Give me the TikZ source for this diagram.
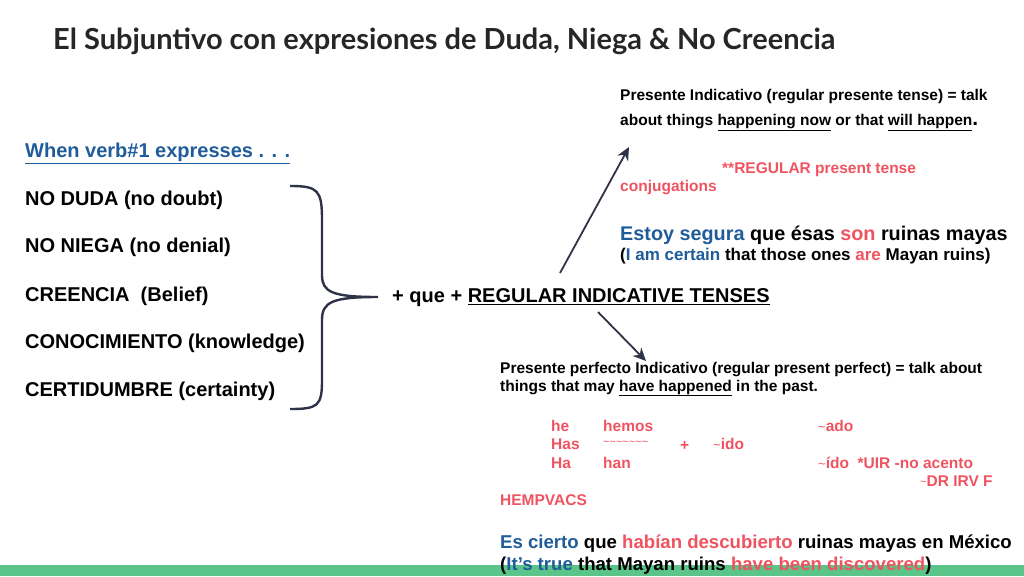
\documentclass[tikz,border=0pt]{standalone}
\usepackage{fontspec}
\setmainfont{Liberation Sans}
\newfontfamily\titlefont{Lato}
\usetikzlibrary{arrows.meta}
\definecolor{myblue}{HTML}{1F5C99}
\definecolor{myred}{HTML}{EF5360}
\definecolor{mynavy}{HTML}{2E3347}
\definecolor{mygreen}{HTML}{5BC589}
\newcommand{\ul}[1]{\underline{#1}}
\newcommand{\tl}{\raisebox{0.5pt}{\mdseries\fontsize{13}{13}\selectfont\char`\~}}
\newcommand{\tls}{\raisebox{0.5pt}{\mdseries\fontsize{11}{11}\selectfont\char`\~}}
\begin{document}
\begin{tikzpicture}[x=1pt,y=-1pt,
  big/.style={anchor=west,inner sep=0pt,font=\bfseries\fontsize{20}{24}\selectfont},
  sm/.style={anchor=west,inner sep=0pt,font=\bfseries\fontsize{15.5}{18}\selectfont},
  red/.style={text=myred},
  arr/.style={draw=mynavy,line width=1.8pt,-{Stealth[length=13pt,width=12pt]}}]
\useasboundingbox (0,0) rectangle (1024,576);
\fill[mygreen] (0,565) rectangle (1024,576);
\node[anchor=west,inner sep=0pt,font=\titlefont\bfseries\fontsize{29}{32}\selectfont,text=black!85] (title) at (53,41) {El Subjuntivo con expresiones de Duda, Niega \& No Creencia};
\node[big,text=myblue] (when) at (25,153) {\ul{When verb\#1 expresses . . .}};
\node[big] (duda) at (25,200) {NO DUDA (no doubt)};
\node[big] (niega) at (25,247) {NO NIEGA (no denial)};
\node[big] (cree) at (25,296) {CREENCIA\ \ (Belief)};
\node[big] (cono) at (25,343) {CONOCIMIENTO (knowledge)};
\node[big] (cert) at (25,391) {CERTIDUMBRE (certainty)};
\draw[mynavy,line width=2.4pt] (290,186) .. controls (318,186) and (322,190) .. (322,220)
  -- (322,275) .. controls (322,292) and (332,297) .. (378,297)
  .. controls (332,297) and (322,302) .. (322,320) -- (322,380)
  .. controls (322,406) and (318,409) .. (290,409);
\node[big] (que) at (392,298) {+ que + \ul{REGULAR INDICATIVE TENSES}};
\coordinate (a1s) at (560,273); \coordinate (a1e) at (629,147);
\coordinate (a2s) at (598,312); \coordinate (a2e) at (646,361);
\draw[arr] (a1s) -- (a1e);
\draw[arr] (a2s) -- (a2e);
\node[sm] (pi1) at (620,97) {Presente Indicativo (regular presente tense) = talk};
\node[sm] (pi2) at (620,123) {about things \ul{happening now} or that \ul{will happen}{\fontsize{21}{21}\selectfont.}};
\node[sm,red] (reg1) at (722,170) {**REGULAR present tense};
\node[sm,red] (reg2) at (620,188) {conjugations};
\node[anchor=west,inner sep=0pt,font=\bfseries\fontsize{19.8}{22}\selectfont] (es1) at (620,235) {\textcolor{myblue}{Estoy segura} que ésas \textcolor{myred}{son} ruinas mayas};
\node[anchor=west,inner sep=0pt,font=\bfseries\fontsize{17}{20}\selectfont] (es2) at (620,256) {(\textcolor{myblue}{I am certain} that those ones \textcolor{myred}{are} Mayan ruins)};
\node[sm] (pp1) at (500,370) {Presente perfecto Indicativo (regular present perfect) = talk about};
\node[sm] (pp2) at (500,388) {things that may \ul{have happened} in the past.};
\node[sm,red] (he) at (551,426) {he};
\node[sm,red] (hemos) at (603,426) {hemos};
\node[sm,red] (ado) at (818,426) {\tl ado};
\node[sm,red] (has) at (551,444) {Has};
\node[sm,red] (tt) at (603,444) {\tls\tls\tls\tls\tls\tls\tls};
\node[sm,red] (plus) at (680,446) {+};
\node[sm,red] (ido) at (713,444) {\tl ido};
\node[sm,red] (ha) at (551,463) {Ha};
\node[sm,red] (han) at (603,463) {han};
\node[sm,red] (ido2) at (818,463) {\tl ído\ \ *UIR -no acento};
\node[sm,red] (dr) at (920,481) {\tls DR IRV F};
\node[sm,red] (hemp) at (500,500) {HEMPVACS};
\node[anchor=west,inner sep=0pt,font=\bfseries\fontsize{18.6}{22}\selectfont] (ec1) at (500,544) {\textcolor{myblue}{Es cierto} que \textcolor{myred}{habían descubierto} ruinas mayas en México};
\node[anchor=west,inner sep=0pt,font=\bfseries\fontsize{18.6}{22}\selectfont] (ec2) at (500,566) {(\textcolor{myblue}{It’s true} that Mayan ruins \textcolor{myred}{have been discovered})};
\end{tikzpicture}
\end{document}
